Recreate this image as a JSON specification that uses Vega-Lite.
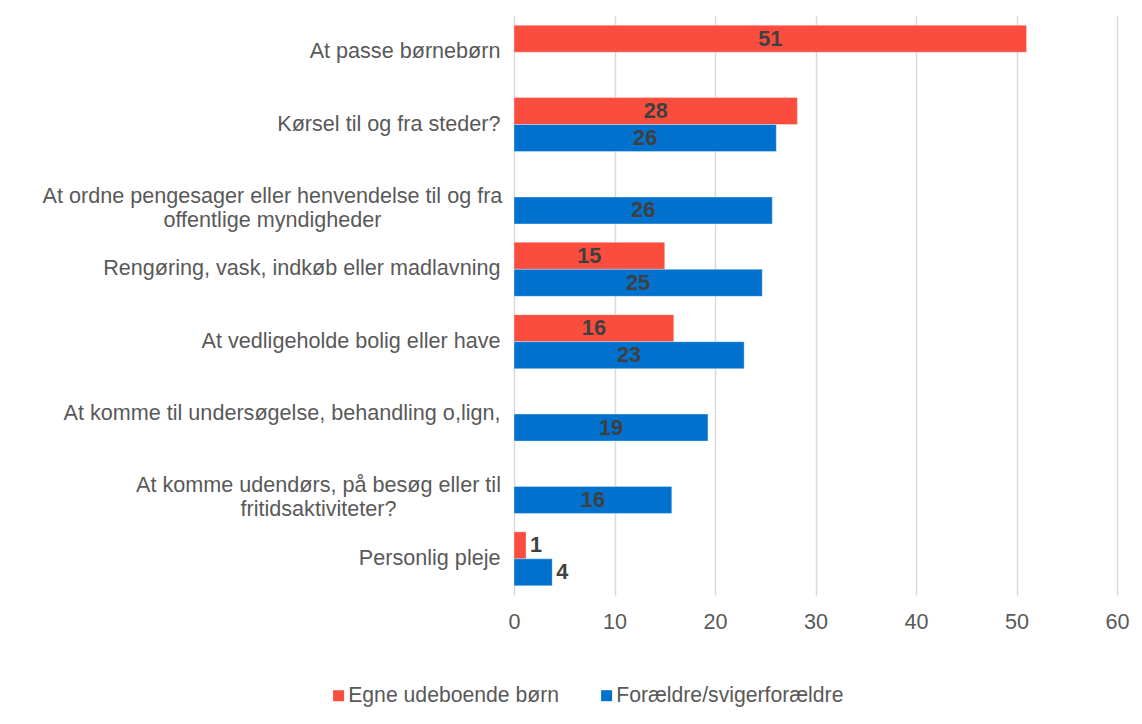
{
  "$schema": "https://vega.github.io/schema/vega-lite/v6.json",
  "width": 603,
  "height": 579,
  "autosize": {"type": "none"},
  "padding": {"left": 514, "top": 16, "right": 25, "bottom": 129},
  "background": "white",
  "config": {
    "view": {"stroke": null},
    "font": "Liberation Sans"
  },
  "data": {
    "values": [
      {"category": "At passe børnebørn", "series": "Egne udeboende børn", "value": 51.0},
      {"category": "Kørsel til og fra steder?", "series": "Egne udeboende børn", "value": 28.2},
      {"category": "Kørsel til og fra steder?", "series": "Forældre/svigerforældre", "value": 26.1},
      {"category": "At ordne pengesager eller henvendelse til og fra offentlige myndigheder", "series": "Forældre/svigerforældre", "value": 25.7},
      {"category": "Rengøring, vask, indkøb eller madlavning", "series": "Egne udeboende børn", "value": 15.0},
      {"category": "Rengøring, vask, indkøb eller madlavning", "series": "Forældre/svigerforældre", "value": 24.7},
      {"category": "At vedligeholde bolig eller have", "series": "Egne udeboende børn", "value": 15.9},
      {"category": "At vedligeholde bolig eller have", "series": "Forældre/svigerforældre", "value": 22.9},
      {"category": "At komme til undersøgelse, behandling o,lign,", "series": "Forældre/svigerforældre", "value": 19.3},
      {"category": "At komme udendørs, på besøg eller til fritidsaktiviteter?", "series": "Forældre/svigerforældre", "value": 15.7},
      {"category": "Personlig pleje", "series": "Egne udeboende børn", "value": 1.2},
      {"category": "Personlig pleje", "series": "Forældre/svigerforældre", "value": 3.8}
    ]
  },
  "encoding": {
    "y": {
      "field": "category",
      "type": "nominal",
      "sort": null,
      "title": null,
      "scale": {
        "domain": [
          "At passe børnebørn",
          "Kørsel til og fra steder?",
          "At ordne pengesager eller henvendelse til og fra offentlige myndigheder",
          "Rengøring, vask, indkøb eller madlavning",
          "At vedligeholde bolig eller have",
          "At komme til undersøgelse, behandling o,lign,",
          "At komme udendørs, på besøg eller til fritidsaktiviteter?",
          "Personlig pleje"
        ],
        "paddingInner": 0.254,
        "paddingOuter": 0.127
      },
      "axis": {
        "ticks": false,
        "domain": false,
        "grid": false,
        "labelFont": "Liberation Sans",
        "labelFontSize": 21.6,
        "labelColor": "#595959",
        "labelLimit": 600,
        "labelLineHeight": 24,
        "labelExpr": "datum.value == 'At ordne pengesager eller henvendelse til og fra offentlige myndigheder' ? ['At ordne pengesager eller henvendelse til og fra', 'offentlige myndigheder'] : datum.value == 'At komme udendørs, på besøg eller til fritidsaktiviteter?' ? ['At komme udendørs, på besøg eller til', 'fritidsaktiviteter?'] : datum.value",
        "labelAlign": {
          "condition": [
            {"test": "datum.value == 'At ordne pengesager eller henvendelse til og fra offentlige myndigheder'", "value": "center"},
            {"test": "datum.value == 'At komme udendørs, på besøg eller til fritidsaktiviteter?'", "value": "center"}
          ],
          "value": "right"
        },
        "labelPadding": {
          "condition": [
            {"test": "datum.value == 'At ordne pengesager eller henvendelse til og fra offentlige myndigheder'", "value": 242},
            {"test": "datum.value == 'At komme udendørs, på besøg eller til fritidsaktiviteter?'", "value": 196}
          ],
          "value": 14
        }
      }
    },
    "yOffset": {
      "field": "series",
      "type": "nominal",
      "scale": {"domain": ["Egne udeboende børn", "Forældre/svigerforældre"], "paddingInner": 0, "paddingOuter": 0}
    }
  },
  "layer": [
    {
      "mark": {"type": "bar", "stroke": "#ffffff", "strokeOpacity": 0.35, "strokeWidth": 1},
      "encoding": {
        "x": {
          "field": "value",
          "type": "quantitative",
          "title": null,
          "scale": {"domain": [0, 60], "nice": false},
          "axis": {
            "values": [0, 10, 20, 30, 40, 50, 60],
            "ticks": false,
            "domain": false,
            "grid": true,
            "gridColor": "#d9d9d9",
            "gridWidth": 1.5,
            "labelFont": "Liberation Sans",
            "labelFontSize": 21.6,
            "labelColor": "#595959",
            "labelPadding": 16,
            "labelFlush": false
          }
        },
        "color": {
          "field": "series",
          "type": "nominal",
          "scale": {"domain": ["Egne udeboende børn", "Forældre/svigerforældre"], "range": ["#FB4D3D", "#0072CE"]},
          "legend": {
            "title": null,
            "orient": "none",
            "direction": "horizontal",
            "legendX": -186,
            "legendY": 669,
            "symbolType": "square",
            "symbolSize": 121,
            "symbolStrokeWidth": 0,
            "labelFont": "Liberation Sans",
            "labelFontSize": 21.2,
            "labelColor": "#595959",
            "labelLimit": 500,
            "labelOffset": -1,
            "columnPadding": 36,
            "padding": 0
          }
        }
      }
    },
    {
      "transform": [{"filter": "datum.value >= 5"}, {"calculate": "datum.value / 2", "as": "mid"}],
      "mark": {"type": "text", "align": "center", "baseline": "middle", "font": "Liberation Sans", "fontSize": 21.7, "fontWeight": "bold", "color": "#404040"},
      "encoding": {
        "x": {"field": "mid", "type": "quantitative"},
        "text": {"field": "value", "type": "quantitative", "format": ".0f"}
      }
    },
    {
      "transform": [{"filter": "datum.value < 5"}],
      "mark": {"type": "text", "align": "left", "baseline": "middle", "dx": 4, "font": "Liberation Sans", "fontSize": 21.7, "fontWeight": "bold", "color": "#404040"},
      "encoding": {
        "x": {"field": "value", "type": "quantitative"},
        "text": {"field": "value", "type": "quantitative", "format": ".0f"}
      }
    }
  ]
}
